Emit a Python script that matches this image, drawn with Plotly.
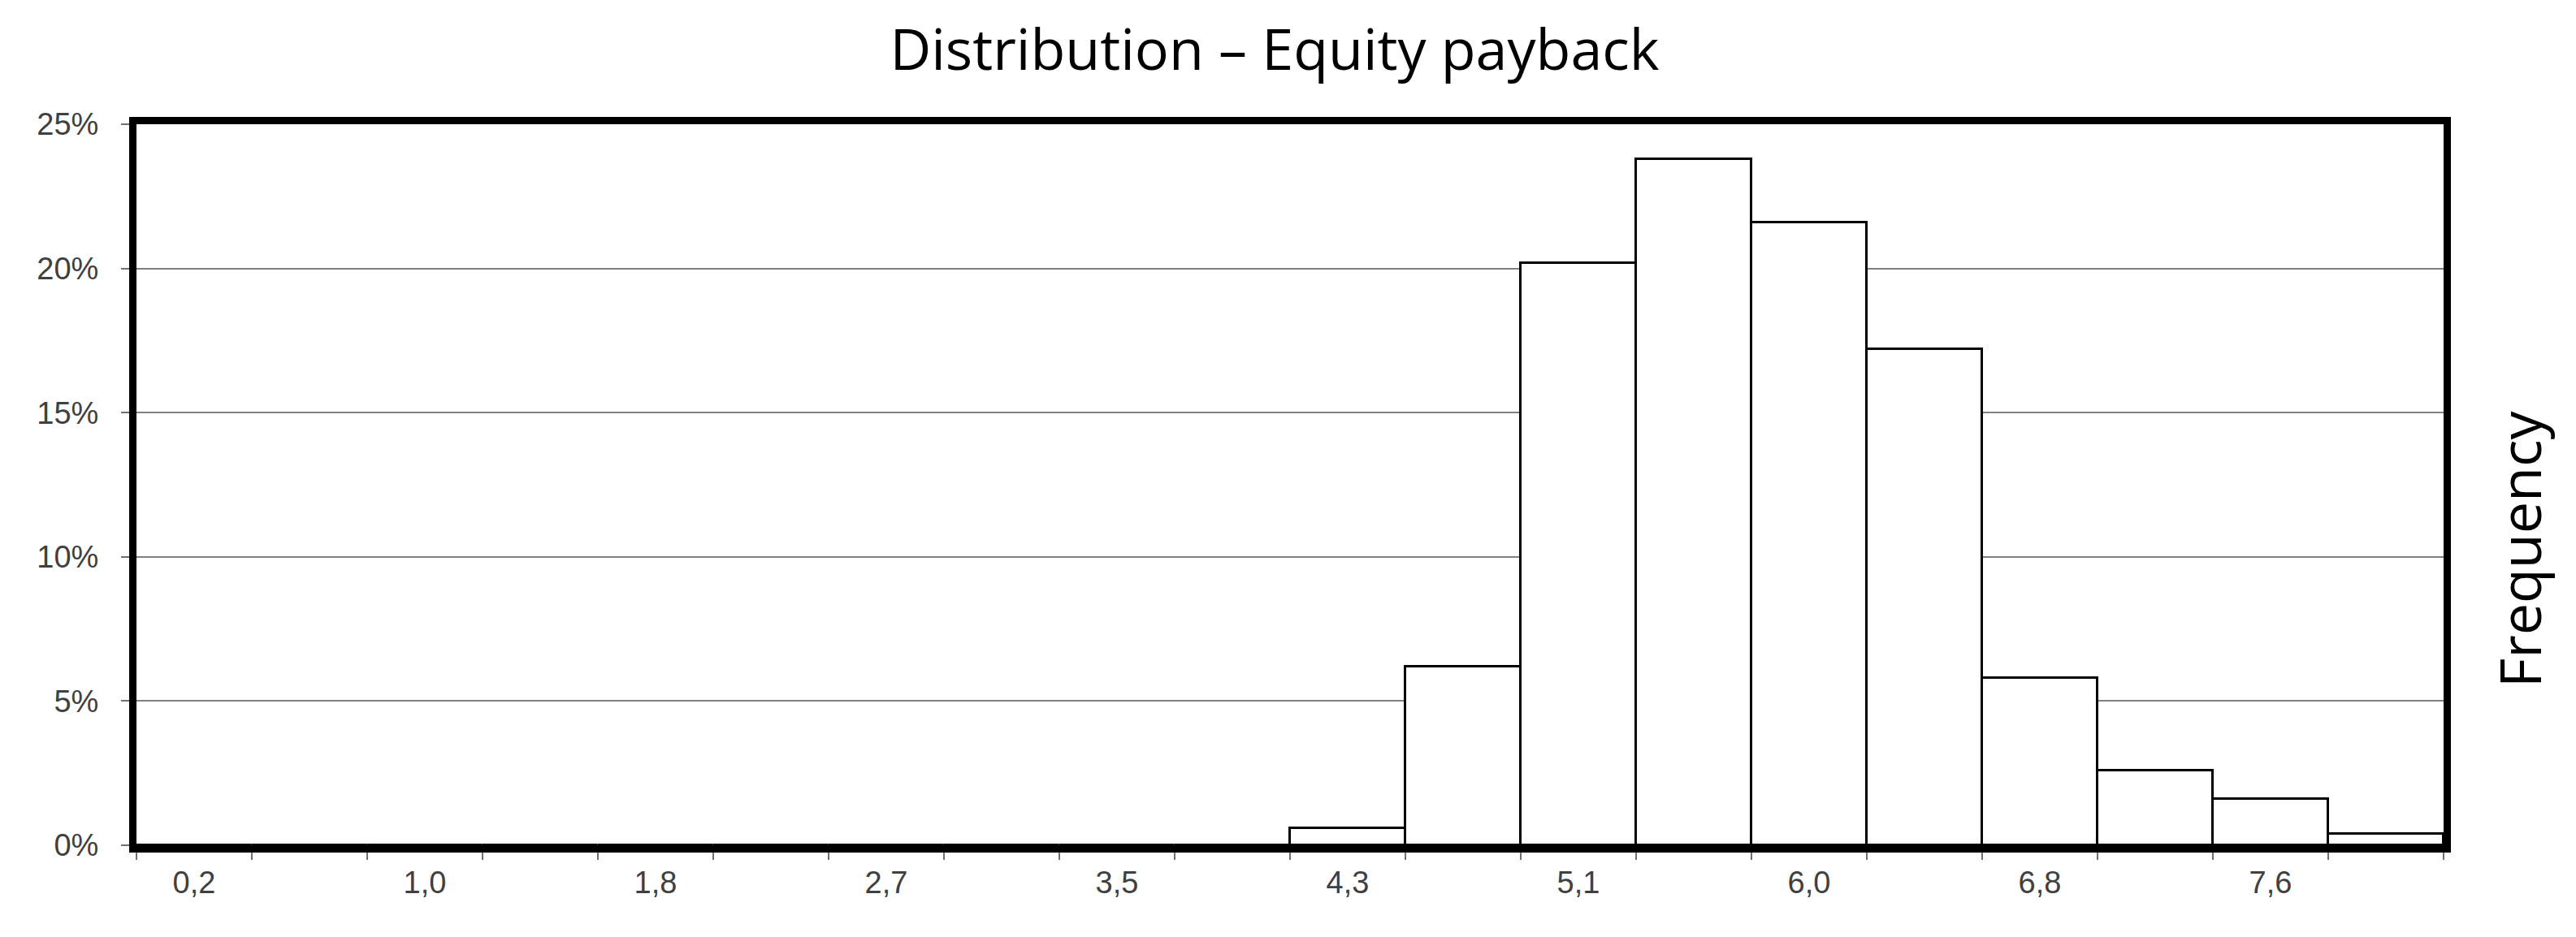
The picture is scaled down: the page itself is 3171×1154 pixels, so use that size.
import plotly.graph_objects as go

# histogram of equity payback (years), 20 bins, share of runs
tick_labels = ["0,2", "1,0", "1,8", "2,7", "3,5", "4,3", "5,1", "6,0", "6,8", "7,6"]
frequency = [0.0, 0.0, 0.0, 0.0, 0.0, 0.0, 0.0, 0.0, 0.0, 0.0,
             0.006, 0.062, 0.202, 0.238, 0.216, 0.172, 0.058, 0.026, 0.016, 0.004]

bins = list(range(len(frequency)))
label_pos = bins[::2]
edges = [b - 0.5 for b in bins] + [bins[-1] + 0.5]

W, H = 3171, 1154
left, right, top, bottom = 160, 3000, 145, 1033

fig = go.Figure()
fig.add_trace(go.Bar(
    x=bins, y=frequency,
    marker=dict(color="white", line=dict(color="black", width=3)),
    hoverinfo="y",
))

fig.update_layout(
    width=W, height=H,
    margin=dict(l=left, r=W - right, t=top, b=H - bottom),
    paper_bgcolor="white", plot_bgcolor="white",
    bargap=0,
    showlegend=False,
    title=dict(
        text="Distribution \u2013 Equity payback",
        font=dict(family="Open Sans", size=70, color="black"),
        x=1561 / W, xanchor="center",
        y=1 - 53 / H, yanchor="middle", yref="container",
    ),
)

fig.update_xaxes(
    range=[edges[0], edges[-1]],
    tickvals=label_pos, ticktext=tick_labels,
    ticks="", ticklabelstandoff=4,
    tickfont=dict(family="Liberation Sans, Arial", size=38, color="#404040"),
    minor=dict(tickvals=edges, ticks="outside", ticklen=9, tickwidth=2, tickcolor="#707070"),
    showgrid=False, zeroline=False,
    showline=True, linecolor="black", linewidth=9, mirror=True,
)

fig.update_yaxes(
    range=[0, 0.25], tickvals=[0, 0.05, 0.10, 0.15, 0.20, 0.25], tickformat=".0%",
    ticks="outside", ticklen=10, tickwidth=2, tickcolor="#707070",
    ticklabelstandoff=20,
    tickfont=dict(family="Liberation Sans, Arial", size=38, color="#404040"),
    showgrid=True, gridcolor="#808080", gridwidth=2, zeroline=False,
    showline=True, linecolor="black", linewidth=9, mirror=True,
)

fig.add_annotation(
    text="Frequency", textangle=-90,
    xref="paper", yref="paper",
    x=(3093 - left) / (right - left), y=(bottom - 668) / (bottom - top),
    xanchor="center", yanchor="middle", showarrow=False,
    font=dict(family="Open Sans", size=70, color="black"),
)

fig.write_html("out.html")
